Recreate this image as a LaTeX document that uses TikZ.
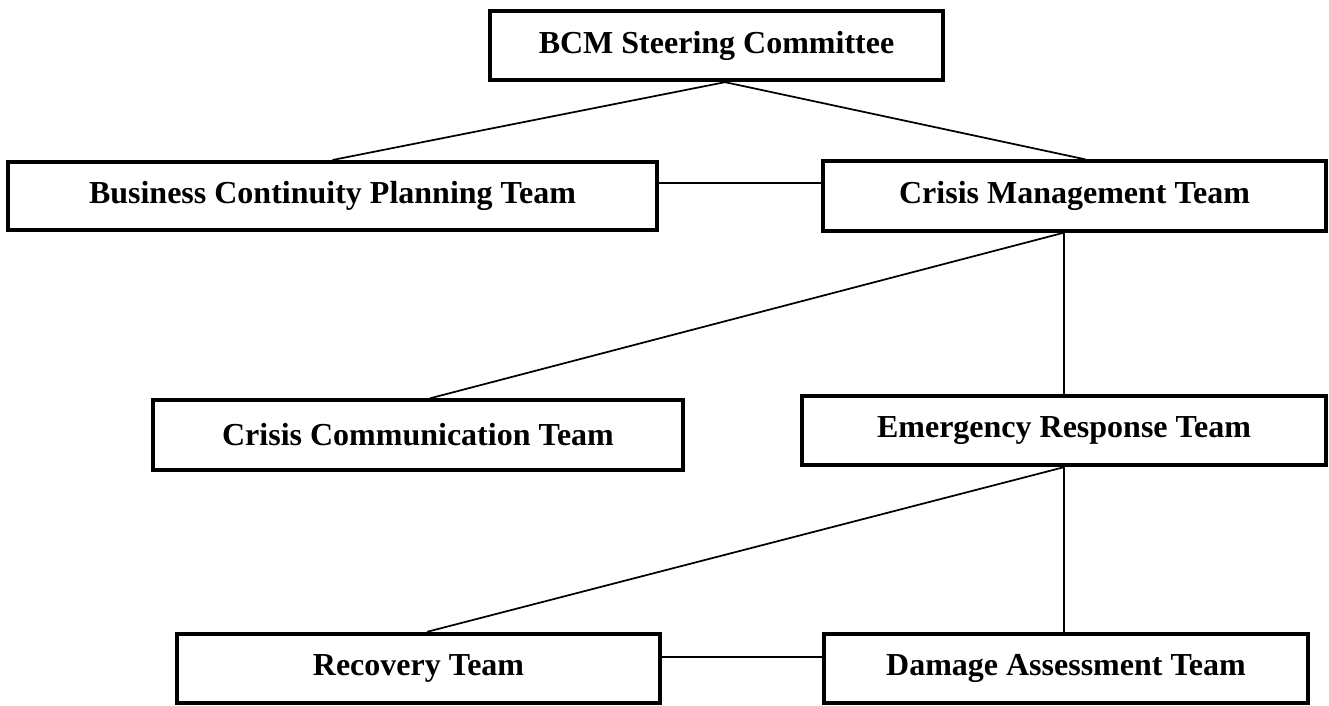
\documentclass[tikz,border=0pt]{standalone}
\usepackage{fontspec}
\setmainfont{Liberation Serif}
\begin{document}
\begin{tikzpicture}[x=0.75pt, y=-0.75pt,
    team/.style={draw, line width=3pt, inner sep=0pt, font=\fontsize{24}{28}\selectfont\bfseries},
    link/.style={line width=1.3pt}]
    \useasboundingbox (0,0) rectangle (1329,706);
    % Top level
    \node[team, minimum width=340pt, minimum height=52pt] (bcm) at (716.5,45.5) {BCM Steering Committee};
    % Second level
    \node[team, minimum width=487pt, minimum height=51pt] (bcp) at (332.5,196) {Business Continuity Planning Team};
    \node[team, minimum width=377pt, minimum height=52pt] (cmt) at (1074.5,196) {Crisis Management Team};
    % Third level
    \node[team, minimum width=397pt, minimum height=52pt] (cct) at (418,435) {Crisis Communication Team};
    \node[team, minimum width=393pt, minimum height=52pt] (ert) at (1064,430.5) {Emergency Response Team};
    % Bottom level
    \node[team, minimum width=362pt, minimum height=52pt] (rt) at (418.5,668.5) {Recovery Team};
    \node[team, minimum width=363pt, minimum height=52pt] (dat) at (1066,668.5) {Damage Assessment Team};
    \coordinate (cmtfoot) at (ert.north |- cmt.south);

    % Links
    \draw[link] ([xshift=6.4pt]bcm.south) -- (bcp.north);
    \draw[link] ([xshift=6.4pt]bcm.south) -- ([xshift=8pt]cmt.north);
    \draw[link] ([yshift=9.75pt]bcp.east) -- ([yshift=9.75pt]cmt.west);
    \draw[link] (cmtfoot) -- ([xshift=9pt]cct.north);
    \draw[link] (cmtfoot) -- (ert.north);
    \draw[link] (ert.south) -- ([xshift=6.4pt]rt.north);
    \draw[link] (ert.south) -- (ert.south |- dat.north);
    \draw[link] ([yshift=8.6pt]rt.east) -- ([yshift=8.6pt]dat.west);
\end{tikzpicture}
\end{document}
